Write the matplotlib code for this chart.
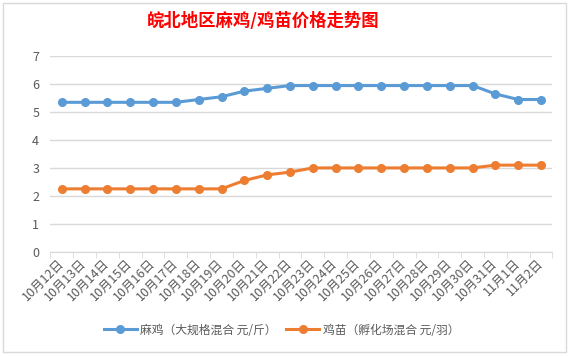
import matplotlib
matplotlib.use('Agg')
import matplotlib.pyplot as plt
from matplotlib.patches import Rectangle
from matplotlib.ticker import MultipleLocator, FixedLocator

plt.rcParams['font.family'] = ['Noto Sans CJK SC', 'DejaVu Sans']

dates = ['10月12日', '10月13日', '10月14日', '10月15日', '10月16日', '10月17日',
         '10月18日', '10月19日', '10月20日', '10月21日', '10月22日', '10月23日',
         '10月24日', '10月25日', '10月26日', '10月27日', '10月28日', '10月29日',
         '10月30日', '10月31日', '11月1日', '11月2日']
maji = [5.35, 5.35, 5.35, 5.35, 5.35, 5.35, 5.45, 5.55, 5.75, 5.85, 5.95,
        5.95, 5.95, 5.95, 5.95, 5.95, 5.95, 5.95, 5.95, 5.65, 5.45, 5.45]
jimiao = [2.25, 2.25, 2.25, 2.25, 2.25, 2.25, 2.25, 2.25, 2.55, 2.75, 2.85,
          3.0, 3.0, 3.0, 3.0, 3.0, 3.0, 3.0, 3.0, 3.1, 3.1, 3.1]
labels = ['麻鸡（大规格混合 元/斤）', '鸡苗（孵化场混合 元/羽）']
title = '皖北地区麻鸡/鸡苗价格走势图'

blue = '#5B9BD5'
orange = '#ED7D31'
grey = '#595959'

fig = plt.figure(figsize=(5.69, 3.56), dpi=100)
fig.patches.append(Rectangle((0.006, 0.012), 0.988, 0.98, transform=fig.transFigure,
                             fill=False, edgecolor='#D9D9D9', lw=1))
ax = fig.add_axes([0.0884, 0.293, 0.8826, 0.549])

x = list(range(len(dates)))
ax.plot(x, maji, color=blue, lw=2.2, marker='o', ms=5.5, label=labels[0])
ax.plot(x, jimiao, color=orange, lw=2.2, marker='o', ms=5.5, label=labels[1])

ax.set_xlim(-0.5, len(dates) - 0.5)
ax.set_ylim(0, 7)
ax.yaxis.set_major_locator(MultipleLocator(1))
ax.grid(axis='y', color='#D9D9D9', lw=1)
ax.set_axisbelow(True)
for s in ['top', 'right', 'left']:
    ax.spines[s].set_visible(False)
ax.spines['bottom'].set_color('#D9D9D9')

ax.set_xticks(x)
ax.set_xticklabels(dates, rotation=45, ha='right', va='center',
                   rotation_mode='anchor', fontsize=9, color=grey)
ax.xaxis.set_minor_locator(FixedLocator([i - 0.5 for i in range(len(dates) + 1)]))
ax.tick_params(axis='x', which='major', length=0, pad=7)
ax.tick_params(axis='x', which='minor', length=4, color='#D9D9D9')
ax.tick_params(axis='y', length=0, labelsize=9, labelcolor=grey, pad=8)

fig.text(0.462, 0.94, title, color='red', fontsize=12.5, fontweight='bold',
         ha='center', va='center')
fig.legend(loc='center', bbox_to_anchor=(0.495, 0.073), ncol=2, frameon=False,
           fontsize=8.5, labelcolor=grey, handlelength=2.8, handletextpad=0.3,
           columnspacing=0.8)

fig.savefig('out.png', dpi=100, facecolor='white')
